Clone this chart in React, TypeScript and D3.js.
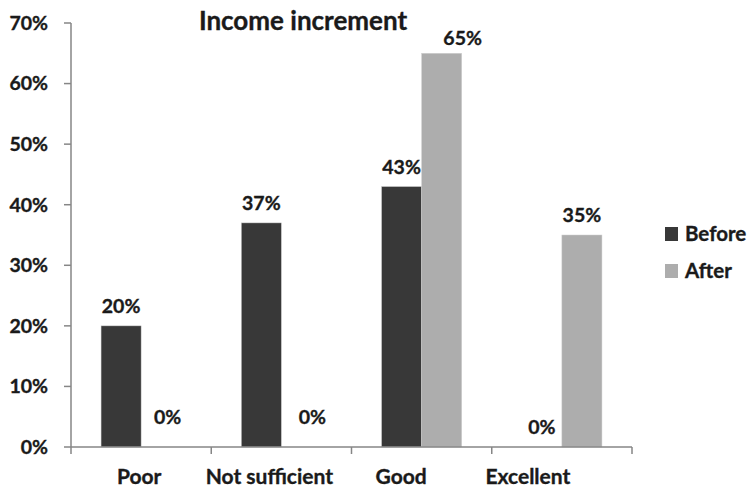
import React from "react";
import * as d3 from "d3";

const categories = ["Poor", "Not sufficient", "Good", "Excellent"];
const seriesNames = ["Before", "After"];
const beforeValues = [0.2, 0.37, 0.43, 0];
const afterValues = [0, 0, 0.65, 0.35];
const yTicks = [0, 0.1, 0.2, 0.3, 0.4, 0.5, 0.6, 0.7];
const title = "Income increment";

// manual label nudges (dx, dy) as placed in the original figure
const labelNudges: Record<string, [number, number]> = {
  "Poor|After": [6.5, -10],
  "Not sufficient|After": [11, -10],
  "Good|After": [21, 5],
};
const xLabelNudges = [-2, -12, -20.5, -34];

const W = 749;
const H = 490;
const FONT = "Lato, 'Open Sans', sans-serif";
const INK = "#1a1a1a";
const colors = ["#383838", "#adadad"];

const textStyle = {
  fontFamily: FONT,
  fontWeight: 700,
  fill: INK,
  stroke: INK,
  strokeWidth: 0.35,
} as const;

export default function App() {
  const x = d3.scaleBand<string>().domain(categories).range([71, 632]).padding(0);
  const xs = d3.scaleBand<string>().domain(seriesNames).range([0, x.bandwidth()]).paddingInner(0).paddingOuter(0.75);
  const y = d3.scaleLinear().domain([0, 0.7]).range([447, 23]);
  const fmt = d3.format(".0%");
  const values = [beforeValues, afterValues];

  const bars: any[] = [];
  const labels: any[] = [];
  categories.forEach((c, i) => {
    seriesNames.forEach((s, j) => {
      const v = values[j][i];
      const bx = (x(c) as number) + (xs(s) as number);
      const bw = xs.bandwidth();
      if (v > 0) {
        bars.push(
          <rect key={`b-${c}-${s}`} x={bx} y={y(v)} width={bw} height={y(0) - y(v)} fill={colors[j]} stroke="#d0d0d0" strokeWidth={0.5} />
        );
      }
      const n = labelNudges[`${c}|${s}`] || [0, 0];
      labels.push(
        <text key={`l-${c}-${s}`} x={bx + bw / 2 + n[0]} y={y(v) - 13 + n[1]} textAnchor="middle" fontSize={19.5} style={textStyle}>
          {fmt(v)}
        </text>
      );
    });
  });

  const boundaries = [...categories.map((c) => x(c) as number), 632];

  return (
    <div style={{ position: "absolute", left: 0, top: 0 }}>
      <svg width={W} height={H} style={{ display: "block" }}>
        <rect width={W} height={H} fill="#fff" />
        {bars}
        {/* y axis */}
        <line x1={71} x2={71} y1={y(0.7)} y2={y(0)} stroke="#868686" strokeWidth={1.5} />
        {yTicks.map((t) => (
          <g key={`yt-${t}`}>
            <line x1={64} x2={71} y1={y(t)} y2={y(t)} stroke="#868686" strokeWidth={1.5} />
            <text x={48} y={y(t)} dy="0.35em" textAnchor="end" fontSize={19.5} style={textStyle}>
              {fmt(t)}
            </text>
          </g>
        ))}
        {/* x axis */}
        <line x1={71} x2={632} y1={y(0)} y2={y(0)} stroke="#868686" strokeWidth={1.5} />
        {boundaries.map((b, i) => (
          <line key={`xt-${i}`} x1={b} x2={b} y1={y(0)} y2={y(0) + 7} stroke="#868686" strokeWidth={1.5} />
        ))}
        {categories.map((c, i) => (
          <text key={`xl-${c}`} x={(x(c) as number) + x.bandwidth() / 2 + xLabelNudges[i]} y={484} textAnchor="middle" fontSize={21} style={textStyle}>
            {c}
          </text>
        ))}
        {labels}
        {/* title */}
        <text x={303} y={30} textAnchor="middle" fontSize={26} style={textStyle}>
          {title}
        </text>
        {/* legend */}
        {seriesNames.map((s, j) => (
          <g key={`lg-${s}`} transform={`translate(665, ${227 + j * 37})`}>
            <rect x={0} y={0} width={13} height={14} fill={colors[j]} />
            <text x={20} y={7} dy="0.36em" fontSize={20.5} style={textStyle}>
              {s}
            </text>
          </g>
        ))}
      </svg>
    </div>
  );
}
